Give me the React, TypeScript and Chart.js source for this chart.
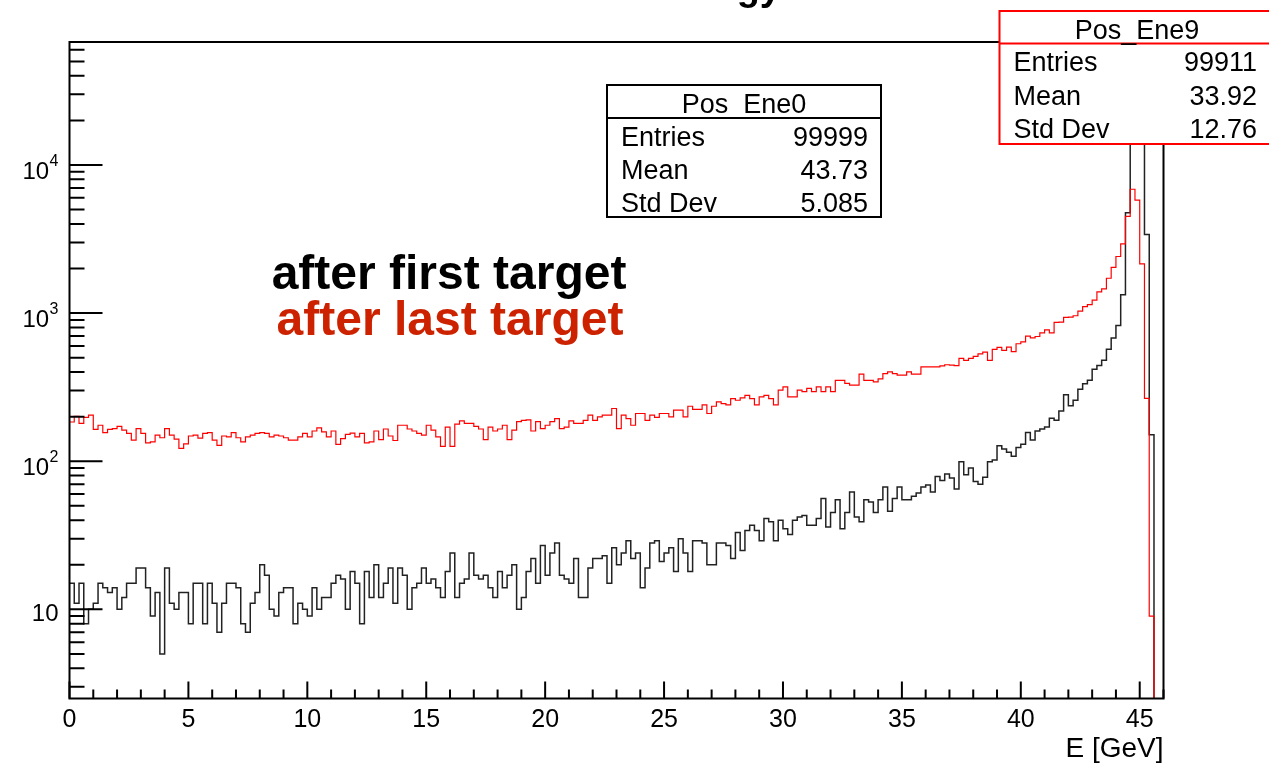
import { useEffect, useRef } from "react";
import { Chart, registerables } from "chart.js";

Chart.register(...registerables);

// Histogram binning and axis ranges
const BIN_WIDTH = 0.2;
const X_MIN = 0;
const X_MAX = 46;
const Y_MIN = 2.5;
const Y_MAX = 67700;

// Positron energy spectrum after the first target (Pos_Ene0), counts per 0.2 GeV bin
const firstTargetCounts = [
  15, 11, 15, 8, 10, 11, 15, 14, 13, 14, 10, 12, 15, 15, 19, 19, 14, 9, 13, 5,
  19, 11, 10, 13, 13, 8, 15, 15, 8, 15, 11, 7, 11, 15, 15, 14, 8, 7, 11, 13,
  20, 17, 10, 9, 13, 14,
  14, 8, 11, 10, 9, 14, 10, 12, 12, 15, 17, 16, 10, 18, 15, 8, 18, 12, 20, 12,
  15, 19, 11, 19, 17, 10, 14, 15, 19, 15, 16, 14, 12, 18, 24, 12, 15, 16, 24, 17,
  16, 17, 14, 12, 18, 14,
  17, 20, 10, 12, 18, 22, 15, 27, 17, 24, 28, 17, 16, 15, 22, 12, 12, 19, 22, 22,
  23, 15, 26, 20, 24, 29, 22, 24, 14, 19, 28, 29, 21, 24, 26, 18, 30, 24, 18, 29,
  29, 28, 20, 20, 28, 28,
  27, 22, 33, 25, 34, 37, 34, 29, 41, 39, 29, 40, 35, 32, 40, 42, 43, 37, 37, 41,
  56, 36, 45, 55, 35, 45, 62, 42, 39, 55, 53, 45, 55, 67, 46, 56, 67, 55, 55, 58,
  61, 67, 69, 62, 79, 74, 82,
  77, 65, 99, 81, 90, 73, 70, 78, 99, 102, 127, 121, 115, 108, 124, 130, 156, 139, 160,
  165, 170, 195, 189, 218, 281, 237, 258, 306, 334, 352, 418, 443, 480, 570, 680, 825, 1332, 4757, 20000,
  38000, 19000, 3400, 151, 0, 0,
];

// Positron energy spectrum after the last target (Pos_Ene9), counts per 0.2 GeV bin
const lastTargetCounts = [
  184, 201, 180, 198, 205, 164, 175, 156, 164, 166, 172, 162, 154, 139, 166, 154, 133, 135, 150, 144,
  166, 150, 141, 122, 131, 148, 150, 143, 154, 156, 139, 128, 148, 146, 156, 144, 135, 146, 150, 154,
  156, 154, 146, 150, 148, 144,
  139, 139, 146, 154, 146, 160, 168, 158, 146, 160, 130, 142, 152, 155, 146, 154, 133, 135, 160, 140,
  165, 148, 138, 175, 175, 165, 160, 154, 150, 175, 162, 146, 126, 170, 126, 178, 187, 180, 180, 172,
  165, 140, 170, 160, 165, 175,
  140, 162, 185, 189, 190, 160, 185, 166, 175, 185, 194, 166, 170, 187, 180, 180, 189, 205, 189, 199,
  205, 205, 227, 166, 205, 194, 175, 210, 210, 189, 205, 198, 210, 210, 199, 221, 221, 199, 235, 224,
  224, 240, 210, 235, 252, 245, 240,
  265, 258, 268, 278, 265, 240, 272, 278, 265, 240, 302, 318, 272, 272, 302, 295, 310, 295, 318, 295,
  318, 295, 352, 352, 335, 326, 326, 387, 352, 352, 343, 360, 390, 401, 390, 381, 381, 401, 387, 387,
  434, 434, 434, 434, 440, 448,
  445, 442, 495, 480, 495, 510, 530, 545, 480, 570, 587, 560, 590, 550, 621, 640, 700, 680, 695,
  736, 770, 736, 865, 870, 935, 940, 960, 1033, 1105, 1140, 1225, 1390, 1460, 1720, 2035, 2412, 2930, 4494, 6862,
  5800, 2153, 266, 9, 0, 0,
];

// Axis labels
const xMajorTicks = [0, 5, 10, 15, 20, 25, 30, 35, 40, 45];
const yDecadeValues = [10, 100, 1000, 10000];
const yDecadeExponents = ["", "2", "3", "4"];
const xAxisTitle = "E [GeV]";
const plotTitle = "Positron Energy";

// Statistics boxes
const statRowLabels = ["Entries", "Mean", "Std Dev"];
const firstTargetName = "Pos_Ene0";
const firstTargetStats = ["99999", "43.73", "5.085"];
const lastTargetName = "Pos_Ene9";
const lastTargetStats = ["99911", "33.92", "12.76"];

const firstLabel = "after first target";
const lastLabel = "after last target";

const FONT = '"Liberation Sans", Arial, Helvetica, sans-serif';
const CANVAS_W = 1269;
const CANVAS_H = 764;

function histogramPoints(counts: number[]) {
  // empty bins are dropped below the axis minimum so the outline falls to the frame
  const pts = counts.map((c, i) => ({ x: X_MIN + i * BIN_WIDTH, y: c > 0 ? c : 1 }));
  pts.push({ x: X_MIN + counts.length * BIN_WIDTH, y: 1 });
  return pts;
}

function drawStatBox(
  ctx: CanvasRenderingContext2D,
  box: { x: number; y: number; w: number; h: number; sep: number; valueRight: number },
  color: string,
  name: string,
  values: string[],
) {
  ctx.save();
  ctx.fillStyle = "#fff";
  ctx.fillRect(box.x, box.y, box.w, box.h);
  ctx.strokeStyle = color;
  ctx.lineWidth = 2;
  ctx.strokeRect(box.x, box.y, box.w, box.h);
  ctx.beginPath();
  ctx.moveTo(box.x, box.sep);
  ctx.lineTo(box.x + box.w, box.sep);
  ctx.stroke();

  ctx.fillStyle = "#000";
  ctx.font = `27px ${FONT}`;
  ctx.textBaseline = "alphabetic";
  ctx.textAlign = "center";
  ctx.fillText(name, box.x + box.w / 2, box.sep - 5);
  const rowH = (box.y + box.h - box.sep) / 3;
  statRowLabels.forEach((label, i) => {
    const base = box.sep + rowH * (i + 0.5) + 11;
    ctx.textAlign = "left";
    ctx.fillText(label, box.x + 14, base);
    ctx.textAlign = "right";
    ctx.fillText(values[i], box.valueRight, base);
  });
  ctx.restore();
}

const rootFramePlugin = {
  id: "rootFrame",
  afterDatasetsDraw(chart: any) {
    const { ctx, chartArea: a, scales } = chart;
    const xs = scales.x;
    const ys = scales.y;
    ctx.save();

    // title, mostly above the top edge of the page
    ctx.fillStyle = "#000";
    ctx.font = `bold 38px ${FONT}`;
    ctx.textAlign = "right";
    ctx.textBaseline = "alphabetic";
    ctx.fillText(plotTitle, 781, 0);

    // frame
    ctx.strokeStyle = "#000";
    ctx.lineWidth = 2;
    ctx.strokeRect(a.left, a.top, a.right - a.left, a.bottom - a.top);

    // tick marks drawn inward
    ctx.beginPath();
    for (let v = Math.ceil(X_MIN); v <= X_MAX; v++) {
      const px = xs.getPixelForValue(v);
      const len = v % 5 === 0 ? 17 : 9;
      ctx.moveTo(px, a.bottom);
      ctx.lineTo(px, a.bottom - len);
    }
    for (let e = 0; e <= 5; e++) {
      for (let m = 1; m <= 9; m++) {
        const v = m * Math.pow(10, e);
        if (v < Y_MIN || v > Y_MAX) continue;
        const py = ys.getPixelForValue(v);
        const len = m === 1 ? 33 : 15;
        ctx.moveTo(a.left, py);
        ctx.lineTo(a.left + len, py);
      }
    }
    ctx.stroke();

    // x tick labels
    ctx.font = `25px ${FONT}`;
    ctx.textAlign = "center";
    xMajorTicks.forEach((v) => {
      ctx.fillText(String(v), xs.getPixelForValue(v), a.bottom + 28.5);
    });

    // y tick labels with exponents
    yDecadeValues.forEach((v, i) => {
      const py = ys.getPixelForValue(v);
      const exp = yDecadeExponents[i];
      const right = 58.5;
      if (!exp) {
        ctx.font = `24px ${FONT}`;
        ctx.textAlign = "right";
        ctx.fillText("10", right, py + 11.5);
      } else {
        ctx.font = `16px ${FONT}`;
        const ew = ctx.measureText(exp).width;
        ctx.textAlign = "left";
        ctx.fillText(exp, right - ew, py + 1);
        ctx.font = `24px ${FONT}`;
        ctx.textAlign = "right";
        ctx.fillText("10", right - ew - 0.5, py + 14);
      }
    });

    // x axis title
    ctx.font = `28px ${FONT}`;
    ctx.textAlign = "right";
    ctx.fillText(xAxisTitle, a.right, 757);

    // series labels
    ctx.font = `bold 48px ${FONT}`;
    ctx.textAlign = "center";
    ctx.fillStyle = "#000";
    ctx.fillText(firstLabel, 449, 289);
    ctx.fillStyle = "rgb(204,34,0)";
    ctx.fillText(lastLabel, 450, 335);

    // statistics boxes
    drawStatBox(ctx, { x: 607, y: 85, w: 274, h: 132, sep: 118, valueRight: 868 }, "#000", firstTargetName, firstTargetStats);
    drawStatBox(ctx, { x: 999.5, y: 11, w: 275, h: 133, sep: 43.5, valueRight: 1257 }, "rgb(255,0,0)", lastTargetName, lastTargetStats);

    ctx.restore();
  },
};

export default function App() {
  const canvasRef = useRef<HTMLCanvasElement | null>(null);

  useEffect(() => {
    const canvas = canvasRef.current;
    if (!canvas) return;
    const chart = new Chart(canvas, {
      type: "line",
      data: {
        datasets: [
          {
            label: lastTargetName,
            data: histogramPoints(lastTargetCounts),
            borderColor: "rgb(255,0,0)",
            borderWidth: 1.2,
            stepped: "before",
            pointRadius: 0,
            fill: false,
            order: 0,
          },
          {
            label: firstTargetName,
            data: histogramPoints(firstTargetCounts),
            borderColor: "rgb(34,34,34)",
            borderWidth: 1.5,
            stepped: "before",
            pointRadius: 0,
            fill: false,
            order: 1,
          },
        ],
      },
      options: {
        responsive: false,
        animation: false,
        devicePixelRatio: 1,
        layout: { padding: { left: 69.5, right: 105.5, top: 42, bottom: 65.5 } },
        scales: {
          x: { type: "linear", min: X_MIN, max: X_MAX, display: false },
          y: { type: "logarithmic", min: Y_MIN, max: Y_MAX, display: false },
        },
        plugins: {
          legend: { display: false },
          tooltip: { enabled: false },
          title: { display: false },
        },
      },
      plugins: [rootFramePlugin],
    });
    return () => chart.destroy();
  }, []);

  return (
    <div style={{ position: "fixed", left: 0, top: 0, width: CANVAS_W, height: CANVAS_H, background: "#fff" }}>
      <canvas ref={canvasRef} width={CANVAS_W} height={CANVAS_H} style={{ display: "block" }} />
    </div>
  );
}
